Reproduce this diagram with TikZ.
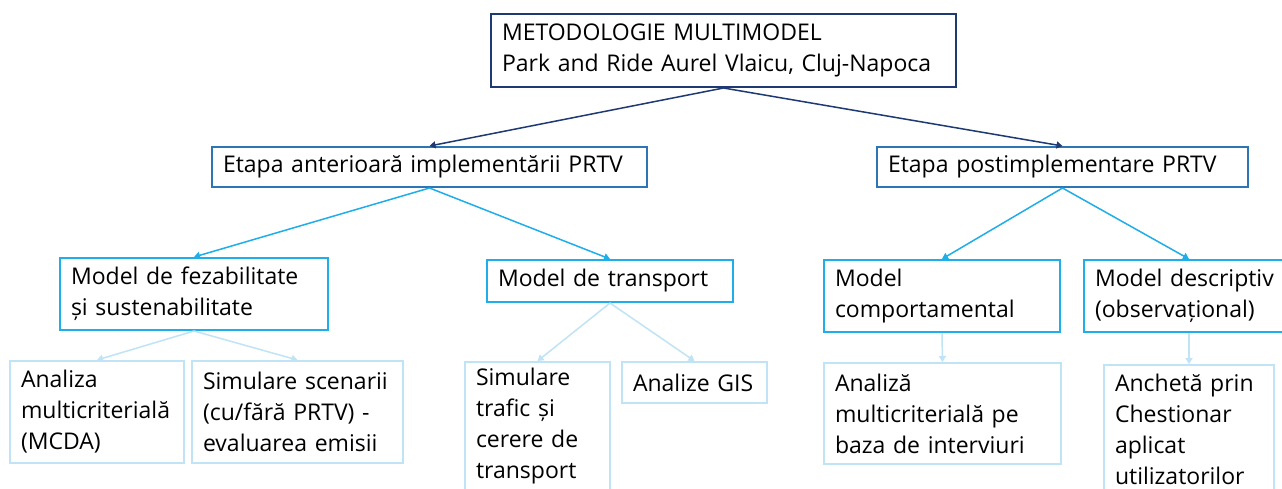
\documentclass[tikz,border=0pt]{standalone}
\usepackage{fontspec}
\setmainfont{Open Sans}
\usetikzlibrary{arrows.meta}
\definecolor{navy}{HTML}{1F3A73}
\definecolor{midblue}{HTML}{2E75B6}
\definecolor{cyanb}{HTML}{1FAEEA}
\definecolor{lightb}{HTML}{C0E4F6}
\tikzset{
  box/.style={draw, line width=2pt, anchor=north west, inner xsep=11pt, inner ysep=0pt,
    align=left, text=black, font=\fontsize{23}{31}\selectfont},
  topbox/.style={box, draw=navy},
  lvtwo/.style={box, draw=midblue},
  lvthree/.style={box, draw=cyanb},
  lvfour/.style={box, draw=lightb},
  arr/.style={line width=1.5pt, -{Triangle[width=7pt,length=6pt]}},
  navyarr/.style={arr, draw=navy, fill=navy},
  cyanarr/.style={arr, draw=cyanb, fill=cyanb},
  lightarr/.style={arr, draw=lightb, fill=lightb}
}
\begin{document}
\begin{tikzpicture}[x=1pt,y=-1pt]
\useasboundingbox (0,0) rectangle (1282,488);
\fill[white] (0,0) rectangle (1282,488);
\clip (0,0) rectangle (1282,488);

\node[topbox, text width=443pt, minimum height=73pt] (top) at (490,13)
  {METODOLOGIE MULTIMODEL\\Park and Ride Aurel Vlaicu, Cluj-Napoca};

\node[lvtwo, text width=413pt, minimum height=40pt] (pre) at (211,146)
  {Etapa anterioară implementării PRTV};
\node[lvtwo, text width=349pt, minimum height=40pt] (post) at (876,146)
  {Etapa postimplementare PRTV};

\node[lvthree, text width=246pt, minimum height=72pt] (fez) at (59,257)
  {Model de fezabilitate\\și sustenabilitate};
\node[lvthree, text width=224pt, minimum height=42pt] (trans) at (486,259)
  {Model de transport};
\node[lvthree, text width=214pt, minimum height=72pt] (comp) at (823,259)
  {Model\\comportamental};
\node[lvthree, text width=188pt, minimum height=72pt] (desc) at (1083,259)
  {Model descriptiv\\(observațional)};

\node[lvfour, text width=152pt, minimum height=102pt] (mcda) at (9,360)
  {Analiza\\multicriterială\\(MCDA)};
\node[lvfour, text width=189pt, minimum height=102pt] (scen) at (191,360)
  {Simulare scenarii\\(cu/fără PRTV) -\\evaluarea emisii};
\node[lvfour, text width=123pt, minimum height=128pt] (traf) at (464,361)
  {Simulare\\trafic și\\cerere de\\transport};
\node[lvfour, text width=123pt, minimum height=41pt] (gis) at (621,361)
  {Analize GIS};
\node[lvfour, text width=215pt, minimum height=101pt] (interv) at (823,362)
  {Analiză\\multicriterială pe\\baza de interviuri};
\node[lvfour, text width=148pt, minimum height=128pt] (anch) at (1103,364)
  {Anchetă prin\\Chestionar\\aplicat\\utilizatorilor};

\draw[navyarr] (top.south) -- (pre.north);
\draw[navyarr] (top.south) -- (post.north);
\draw[cyanarr] (pre.south) -- (fez.north);
\draw[cyanarr] (pre.south) -- (trans.north);
\draw[cyanarr] (post.south) -- (comp.north);
\draw[cyanarr] (post.south) -- (desc.north);
\draw[lightarr] (fez.south) -- (mcda.north);
\draw[lightarr] (fez.south) -- (scen.north);
\draw[lightarr] (trans.south) -- (traf.north);
\draw[lightarr] (trans.south) -- (gis.north);
\draw[lightarr] (comp.south) -- (interv.north);
\draw[lightarr] (desc.south) -- (anch.north);
\end{tikzpicture}
\end{document}
